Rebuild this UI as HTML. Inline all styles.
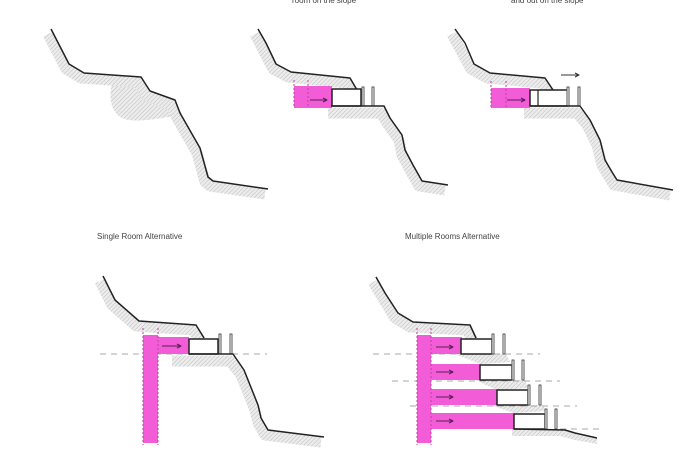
<!DOCTYPE html>
<html><head><meta charset="utf-8"><style>
html,body{margin:0;padding:0;background:#fff;}
svg{display:block;}
text{font-family:"Liberation Sans",sans-serif;fill:#444;font-size:8px;}
</style></head><body>
<svg width="700" height="469" viewBox="0 0 700 469" xmlns="http://www.w3.org/2000/svg">
<defs>
<pattern id="h" patternUnits="userSpaceOnUse" width="3" height="3" patternTransform="rotate(45)">
<rect width="3" height="3" fill="#ececec"/><line x1="0" y1="0" x2="0" y2="3" stroke="#bdbdbd" stroke-width="1"/>
</pattern>
</defs>
<text x="292" y="3">room on the slope</text>
<text x="511" y="3">and out on the slope</text>
<text x="97" y="239">Single Room Alternative</text>
<text x="405" y="239">Multiple Rooms Alternative</text>

<!-- Panel 1 -->
<g fill="none" stroke-linejoin="round">
<path d="M113,80 C108,95 110,112 122,118 C135,124 160,118 182,115 L175,100 L150,91 L141,77 Z" fill="url(#h)" stroke="none"/>
<polyline transform="translate(-3,5)" points="51,29 69,64 84,73 141,77 150,91 175,100 180,113 200,148 208,177 213,181 268,189" stroke="url(#h)" stroke-width="11"/>
<polyline points="51,29 69,64 84,73 141,77 150,91 175,100 180,113 200,148 208,177 213,181 268,189" stroke="#222" stroke-width="1.5"/>
</g>

<!-- Panel 2 -->
<g fill="none" stroke-linejoin="round">
<polyline transform="translate(-3,5)" points="258,29 276,64 291,72 350,78 357,88" stroke="url(#h)" stroke-width="11"/>
<polyline transform="translate(-3,5)" points="331,108 384,108 390,118 402,135 405,150 413,165 422,181 448,185" stroke="url(#h)" stroke-width="11"/>
<rect x="294" y="86" width="38" height="22" fill="#f25cd6" stroke="none"/>
<line x1="294" y1="80" x2="294" y2="108" stroke="#c43caa" stroke-dasharray="2,2"/>
<line x1="308" y1="80" x2="308" y2="108" stroke="#c43caa" stroke-dasharray="2,2"/>
<line x1="310" y1="100" x2="326" y2="100" stroke="#552255"/><polyline points="323,98 327,100 323,102" stroke="#552255"/>
<polyline points="258,29 266,43 276,64 291,72 350,78 357,90" stroke="#222" stroke-width="1.5"/>
<rect x="332" y="89" width="29" height="17" fill="#fff" stroke="#222" stroke-width="1.5"/>
<rect x="362" y="87" width="2" height="19" fill="#fff" stroke="#555" stroke-width="1"/>
<rect x="372" y="87" width="2" height="19" fill="#fff" stroke="#555" stroke-width="1"/>
<polyline points="331,106 384,106 390,118 402,135 405,150 413,165 422,181 448,185" stroke="#222" stroke-width="1.5"/>
</g>

<!-- Panel 3 -->
<g fill="none" stroke-linejoin="round">
<polyline transform="translate(-3,5)" points="455,29 474,64 490,73 545,78 553,88" stroke="url(#h)" stroke-width="11"/>
<polyline transform="translate(-3,5)" points="527,108 580,108 590,120 600,140 605,160 612,172 617,180 673,190" stroke="url(#h)" stroke-width="11"/>
<rect x="491" y="88" width="39" height="20" fill="#f25cd6" stroke="none"/>
<line x1="491" y1="81" x2="491" y2="108" stroke="#c43caa" stroke-dasharray="2,2"/>
<line x1="506" y1="81" x2="506" y2="108" stroke="#c43caa" stroke-dasharray="2,2"/>
<line x1="507" y1="100" x2="524" y2="100" stroke="#552255"/><polyline points="521,98 525,100 521,102" stroke="#552255"/>
<polyline points="455,29 465,43 474,64 490,73 545,78 553,90" stroke="#222" stroke-width="1.5"/>
<rect x="530" y="90" width="38" height="16" fill="#fff" stroke="#222" stroke-width="1.5"/>
<line x1="538" y1="90" x2="538" y2="106" stroke="#222" stroke-width="1.2"/>
<rect x="567" y="87" width="2" height="19" fill="#fff" stroke="#555"/>
<rect x="578" y="87" width="2" height="19" fill="#fff" stroke="#555"/>
<polyline points="530,106 580,106 590,120 600,140 605,160 612,172 617,180 673,190" stroke="#222" stroke-width="1.5"/>
<line x1="561" y1="75" x2="578" y2="75" stroke="#333"/><polyline points="575,73 579,75 575,77" stroke="#333"/>
</g>

<!-- Panel 4 -->
<g fill="none" stroke-linejoin="round">
<polyline transform="translate(-3,5)" points="103,276 115,300 139,321 196,325 204,336" stroke="url(#h)" stroke-width="11"/>
<polyline transform="translate(-3,5)" points="175,356 233,356 244,370 250,385 258,405 261,418 268,430 324,437" stroke="url(#h)" stroke-width="11"/>
<line x1="100" y1="354" x2="267" y2="354" stroke="#aaa" stroke-dasharray="6,5"/>
<rect x="143" y="335" width="15" height="108" fill="#f25cd6" stroke="none"/>
<rect x="158" y="337" width="31" height="17" fill="#f25cd6" stroke="none"/>
<line x1="143" y1="328" x2="143" y2="445" stroke="#c43caa" stroke-dasharray="2,2"/>
<line x1="158" y1="328" x2="158" y2="445" stroke="#c43caa" stroke-dasharray="2,2"/>
<line x1="162" y1="346" x2="180" y2="346" stroke="#552255"/><polyline points="177,344 181,346 177,348" stroke="#552255"/>
<polyline points="103,276 115,300 139,321 196,325 204,338" stroke="#222" stroke-width="1.5"/>
<rect x="189" y="339" width="29" height="15" fill="#fff" stroke="#222" stroke-width="1.5"/>
<rect x="219" y="334" width="2" height="20" fill="#fff" stroke="#555"/>
<rect x="230" y="334" width="2" height="20" fill="#fff" stroke="#555"/>
<polyline points="189,354 233,354 244,370 250,385 258,405 261,418 268,430 324,437" stroke="#222" stroke-width="1.5"/>
</g>

<!-- Panel 5 -->
<g fill="none" stroke-linejoin="round">
<polyline transform="translate(-3,5)" points="376,277 398,313 413,322 470,325 476,336" stroke="url(#h)" stroke-width="11"/>
<path d="M455,354 L506,354 L510,362 L480,364 Z M475,380 L525,380 L528,388 L497,390 Z M490,405 L543,405 L546,411 L514,413 Z M512,429 L565,430 L575,433 L597,438 L597,444 L575,440 L560,436 L512,436 Z" fill="url(#h)" stroke="none"/>
<line x1="373" y1="354" x2="540" y2="354" stroke="#aaa" stroke-dasharray="6,5"/>
<line x1="392" y1="381" x2="560" y2="381" stroke="#aaa" stroke-dasharray="6,5"/>
<line x1="410" y1="406" x2="577" y2="406" stroke="#aaa" stroke-dasharray="6,5"/>
<line x1="560" y1="429" x2="600" y2="429" stroke="#aaa" stroke-dasharray="6,5"/>
<rect x="417" y="335" width="14" height="108" fill="#f25cd6" stroke="none"/>
<rect x="431" y="337" width="31" height="17" fill="#f25cd6"/>
<rect x="431" y="364" width="50" height="16" fill="#f25cd6"/>
<rect x="431" y="389" width="67" height="16" fill="#f25cd6"/>
<rect x="431" y="413" width="84" height="16" fill="#f25cd6"/>
<line x1="417" y1="328" x2="417" y2="445" stroke="#c43caa" stroke-dasharray="2,2"/>
<line x1="431" y1="328" x2="431" y2="445" stroke="#c43caa" stroke-dasharray="2,2"/>
<g stroke="#552255">
<line x1="436" y1="347" x2="452" y2="347"/><polyline points="449,345 453,347 449,349"/>
<line x1="436" y1="372" x2="452" y2="372"/><polyline points="449,370 453,372 449,374"/>
<line x1="436" y1="397" x2="452" y2="397"/><polyline points="449,395 453,397 449,399"/>
<line x1="436" y1="421" x2="452" y2="421"/><polyline points="449,419 453,421 449,423"/>
</g>
<polyline points="376,277 385,293 398,313 413,322 470,325 476,338" stroke="#222" stroke-width="1.5"/>
<g fill="#fff" stroke="#222" stroke-width="1.5">
<rect x="461" y="339" width="31" height="15"/>
<rect x="480" y="365" width="32" height="15"/>
<rect x="497" y="390" width="31" height="15"/>
<rect x="514" y="414" width="31" height="15"/>
</g>
<g fill="#fff" stroke="#555">
<rect x="492" y="334" width="2" height="20"/><rect x="503" y="334" width="2" height="20"/>
<rect x="512" y="360" width="2" height="20"/><rect x="522" y="360" width="2" height="20"/>
<rect x="528" y="385" width="2" height="20"/><rect x="539" y="385" width="2" height="20"/>
<rect x="545" y="409" width="2" height="20"/><rect x="555" y="409" width="2" height="20"/>
</g>
<polyline points="514,429 565,430 575,433 597,438" stroke="#222" stroke-width="1.5"/>
</g>
</svg>
</body></html>
